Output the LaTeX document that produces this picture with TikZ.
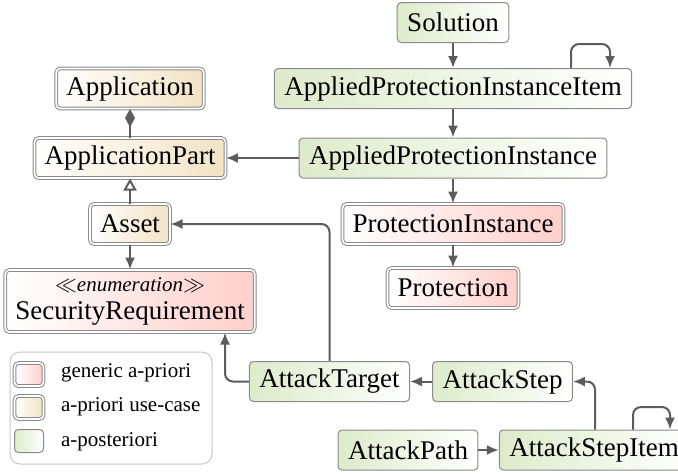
\documentclass[tikz,border=0pt]{standalone}
\usepackage{fontspec}
\setmainfont{Liberation Serif}
\usetikzlibrary{arrows.meta, positioning}
\definecolor{prioricol}{HTML}{FFCFCB}
\definecolor{usecasecol}{HTML}{F2E3C4}
\definecolor{posteriorcol}{HTML}{DDEBCB}
\definecolor{framecol}{HTML}{8A8A8A}
\definecolor{linkcol}{HTML}{5C5C5C}
\tikzset{%
>={Latex[width=5pt,length=6pt]},
  % Specifications for style of nodes:
            base/.style = {rectangle, rounded corners=2pt, draw=framecol,
                            line width=0.5pt, minimum height=20pt, inner xsep=5pt,
                            font=\rmfamily\fontsize{13.5}{14}\selectfont},
            generic/.style = {base, double=white, double distance=0.8pt,
                            left color=white, right color=prioricol},
            usecase/.style = {base, double=white, double distance=0.8pt,
                            left color=white, right color=usecasecol},
            posterior/.style = {base, left color=posteriorcol, right color=white},
  % Specifications for style of connectors:
            link/.style = {draw=linkcol, line width=1pt, ->, rounded corners=4pt},
            comp/.style = {draw=linkcol, line width=1pt,
                            -{Diamond[length=9pt,width=5pt]}},
            inherit/.style = {draw=linkcol, line width=1pt,
                            -{Triangle[open,length=6pt,width=6.5pt,fill=white]}},
            keybox/.style = {minimum width=14.5pt, minimum height=11.5pt, inner sep=0pt},
            keytext/.style = {anchor=west, font=\rmfamily\fontsize{10.5}{12}\selectfont}
}
\begin{document}
\begin{tikzpicture}[x=0.5pt, y=-0.5pt, align=center]
                        \useasboundingbox (0,0) rectangle (678,473);
                        % a-priori part
                        \node (app)[usecase] at (130,88.5) {Application};
                        \node (apppart)[usecase] at (130,158) {ApplicationPart};
                        \node (asset)[usecase] at (130,224) {Asset};
                        \node (secreq)[generic, minimum height=31pt] at (130,301)
                            {{\fontsize{10.5}{11}\selectfont\itshape $\ll$enumeration$\gg$}\\SecurityRequirement};
                        \node (pi)[generic] at (453,224) {ProtectionInstance};
                        \node (prot)[generic] at (453,288) {Protection};
                        % a-posteriori part
                        \node (sol)[posterior] at (453,22.5) {Solution};
                        \node (apii)[posterior] at (453,88.5) {AppliedProtectionInstanceItem};
                        \node (api)[posterior] at (453,158) {AppliedProtectionInstance};
                        \node (at)[posterior] at (329.5,381.5) {AttackTarget};
                        \node (as)[posterior] at (502.5,381.5) {AttackStep};
                        \node (asi)[posterior] at (594,450) {AttackStepItem};
                        \node (ap)[posterior] at (408,450) {AttackPath};
                        % connectors
                        \draw[comp] (apppart) -- (app);
                        \draw[inherit] (asset) -- (apppart);
                        \draw[link] (asset) -- (secreq);
                        \draw[link] (sol) -- (apii);
                        \draw[link] (apii) -- (api);
                        \draw[link] (api) -- (pi);
                        \draw[link] (pi) -- (prot);
                        \draw[link] (api) -- (apppart);
                        \draw[link] (apii.north -| 571,0) |- (590,44) -| (apii.north -| 610,0);
                        \draw[link] (at.north) |- (asset.east);
                        \draw[link] (at.west) -| (secreq.south -| 225,0);
                        \draw[link] (as) -- (at);
                        \draw[link] (asi.north -| 595,0) |- (as.east);
                        \draw[link] (asi.north -| 633,0) |- (650,407) -| (asi.north -| 670,0);
                        \draw[link] (ap) -- (asi);
                        % legend
                        \draw[draw=black!22, line width=0.5pt, rounded corners=5pt]
                            (10,352) rectangle (212,464);
                        \node (key1)[generic, keybox] at (29,374.5) {};
                        \node (key2)[usecase, keybox] at (29,407.5) {};
                        \node (key3)[posterior, keybox] at (29,441) {};
                        \node (text1)[keytext] at (54,373) {generic a-priori};
                        \node (text2)[keytext] at (54,407) {a-priori use-case};
                        \node (text3)[keytext] at (54,442) {a-posteriori};
                    \end{tikzpicture}
\end{document}
